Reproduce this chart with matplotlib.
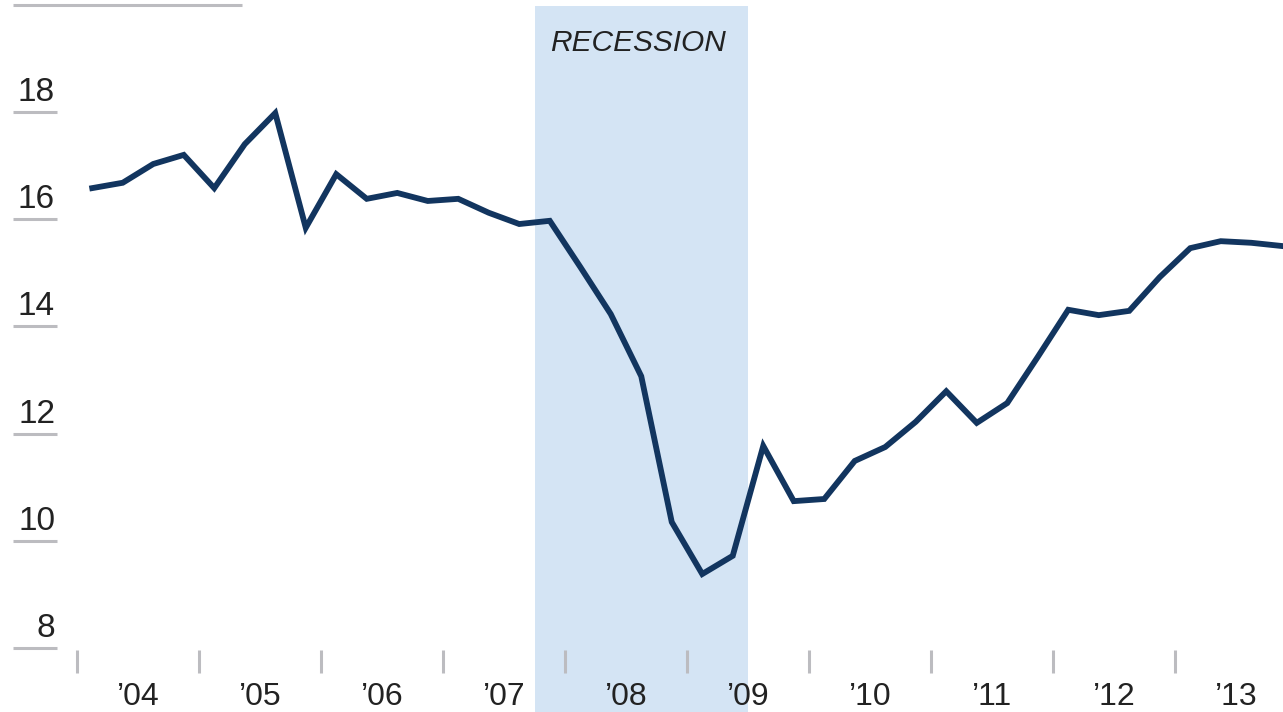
import matplotlib
matplotlib.use("Agg")
import matplotlib.pyplot as plt
import numpy as np

# quarterly data, 2004 Q1 .. 2013 Q4
values = [16.58, 16.68, 17.03, 17.20, 16.58, 17.40, 17.98, 15.84,
          16.84, 16.38, 16.49, 16.34, 16.38, 16.12, 15.91, 15.97,
          15.11, 14.23, 13.07, 10.35, 9.38, 9.72, 11.77, 10.74,
          10.78, 11.49, 11.75, 12.22, 12.79, 12.20, 12.57, 13.43,
          14.31, 14.21, 14.29, 14.92, 15.46, 15.59, 15.56, 15.50]
start_year = 2004
year_labels = ["\u201904", "\u201905", "\u201906", "\u201907", "\u201908",
               "\u201909", "\u201910", "\u201911", "\u201912", "\u201913"]
y_ticks = [8, 10, 12, 14, 16, 18]
recession = (2007.75, 2009.5)
recession_label = "RECESSION"

W, H = 1283, 712
fig = plt.figure(figsize=(W / 100, H / 100), dpi=100)
ax = fig.add_axes([0, 0, 1, 1])
ax.set_axis_off()

# pixel mapping helpers
px_per_year = 122.0
x0_px = 77.0
def xd(px):
    return start_year + (px - x0_px) / px_per_year
px_per_unit = 53.6
def yd(py):
    return 18 - (py - 112) / px_per_unit

ax.set_xlim(xd(0), xd(W))
ax.set_ylim(yd(H), yd(0))

font = "Liberation Sans"
navy = "#12355f"
gray = "#bcbcc0"
txt = "#222222"

# recession band
ax.fill_between([recession[0], recession[1]], yd(H), yd(6), color="#d4e4f4", lw=0, zorder=1)
ax.text((recession[0] + recession[1]) / 2 - 3 / px_per_year, yd(43), recession_label,
        ha="center", va="center", style="italic", fontsize=21.5, color=txt, family=font, zorder=3)

# data line
n = len(values)
xs = start_year + (np.arange(n) + 0.5) / 4
ax.plot(xs, values, color=navy, lw=4.2, solid_joinstyle="miter", zorder=4, clip_on=False)

# top rule
ax.plot([xd(13), xd(242)], [yd(5), yd(5)], color=gray, lw=2.2, solid_capstyle="butt", zorder=2)

# y ticks (short lines under labels)
for v in y_ticks:
    ax.plot([xd(13), xd(57)], [v, v], color=gray, lw=2.2, solid_capstyle="butt", zorder=2)
    ax.text(xd(55), v + 11 / px_per_unit, str(v), ha="right", va="baseline",
            fontsize=24, color=txt, family=font, zorder=3)

# x ticks at year boundaries, labels mid-year
for i, lab in enumerate(year_labels):
    yr = start_year + i
    ax.plot([yr, yr], [yd(650), yd(673)], color=gray, lw=2.2, solid_capstyle="butt", zorder=2)
    ax.text(yr + 0.5, yd(705), lab, ha="center", va="baseline",
            fontsize=23, color=txt, family=font, zorder=3)

fig.savefig("out.png", dpi=100)
